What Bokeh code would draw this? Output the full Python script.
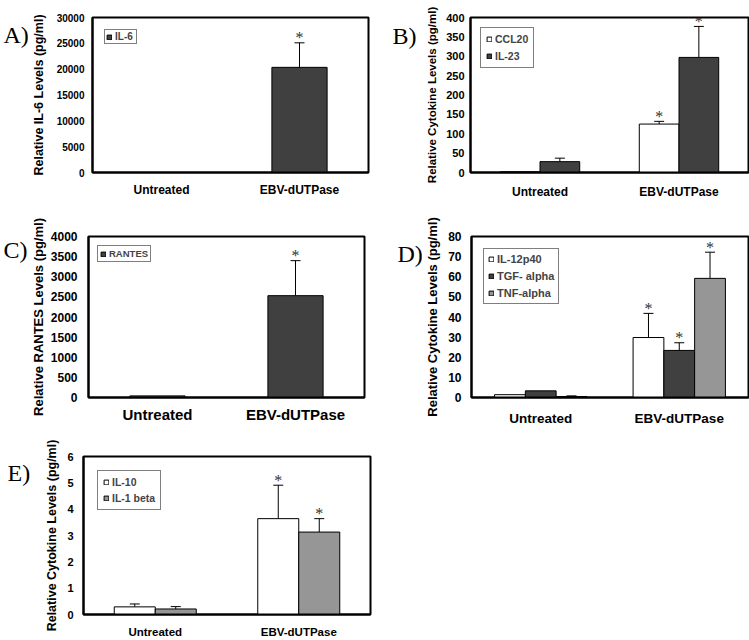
from bokeh.plotting import figure
from bokeh.models import (ColumnDataSource, FactorRange, Range1d, FixedTicker,
                          Whisker, TeeHead, Legend, LegendItem)
from bokeh.transform import dodge
from bokeh.layouts import row, column
from bokeh.core.properties import value
from bokeh.embed import file_html
from bokeh.resources import INLINE

# ---------------- data ----------------
categories = ["Untreated", "EBV-dUTPase"]
significant = [False, True]

il6 = [0, 20350]
il6_err = [0, 4750]

ccl20 = [2, 125]
ccl20_err = [0, 7]
il23 = [28, 297]
il23_err = [9, 80]

rantes = [40, 2530]
rantes_err = [0, 870]

il12p40 = [1.4, 29.8]
il12p40_err = [0, 12]
tgf_alpha = [3.3, 23.4]
tgf_alpha_err = [0, 3.8]
tnf_alpha = [0.5, 59.2]
tnf_alpha_err = [0.3, 13]

il10 = [0.29, 3.64]
il10_err = [0.11, 1.27]
il1_beta = [0.21, 3.13]
il1_beta_err = [0.09, 0.51]

DARK = "#404040"
GRAY = "#969696"
WHITE = "#ffffff"
SANS = "Liberation Sans"
SERIF = "Liberation Serif"


def letter_fig(letter, width, height, x, baseline):
    f = figure(width=width, height=height, x_range=Range1d(0, width),
               y_range=Range1d(0, height), x_axis_type=None, y_axis_type=None,
               min_border_left=0, min_border_right=0, min_border_top=0,
               min_border_bottom=0, output_backend="svg",
               toolbar_location=None, tools="")
    f.outline_line_color = None
    f.grid.visible = False
    f.text(x=[x], y=[height - baseline], text=[letter],
           text_font=value(SERIF), text_font_size="24px", text_color="black",
           text_baseline="alphabetic", text_align="left")
    return f


def make_panel(series, ylabel, y_max, y_step, width, height, borders, fs, leg):
    left, right, top, bottom = borders
    p = figure(x_range=FactorRange(*categories), y_range=Range1d(0, y_max),
               width=width, height=height,
               min_border_left=left, min_border_right=right,
               min_border_top=top, min_border_bottom=bottom,
               output_backend="svg", toolbar_location=None, tools="")
    n = len(series)
    bw = 1.0 / (n + 1.5)
    items = []
    for i, (name, vals, errs, color) in enumerate(series):
        off = (i - (n - 1) / 2) * bw
        src = ColumnDataSource(dict(cat=categories, val=vals))
        r = p.vbar(x=dodge("cat", off, range=p.x_range), top="val", width=bw,
                   source=src, fill_color=color, line_color="black",
                   line_width=1)
        items.append(LegendItem(label=name, renderers=[r]))
        ec = [c for c, e in zip(categories, errs) if e > 0]
        ev = [v for v, e in zip(vals, errs) if e > 0]
        eu = [v + e for v, e in zip(vals, errs) if e > 0]
        esrc = ColumnDataSource(dict(cat=ec, lo=ev, up=eu))
        w = Whisker(base=dodge("cat", off, range=p.x_range), lower="lo",
                    upper="up", source=esrc, dimension="height",
                    line_color="black", line_width=1,
                    upper_head=TeeHead(size=10, line_color="black", line_width=1),
                    lower_head=None)
        p.add_layout(w)
        sc = [c for c, s in zip(categories, significant) if s]
        sy = [v + e for v, e, s in zip(vals, errs, significant) if s]
        ssrc = ColumnDataSource(dict(cat=sc, y=sy))
        p.text(x=dodge("cat", off, range=p.x_range), y="y", text=value("*"),
               source=ssrc, text_font=value(SERIF), text_font_size="16px",
               text_color="#333333", text_align="center",
               text_baseline="middle", y_offset=-5)

    legend = Legend(items=items, location="top_left", margin=leg["margin"],
                    padding=leg["padding"], spacing=leg["spacing"],
                    label_height=leg["item_h"], glyph_height=6, glyph_width=6,
                    label_standoff=3, label_text_font=SANS,
                    label_text_font_style="bold",
                    label_text_font_size=leg["fs"],
                    border_line_color="black", border_line_width=1,
                    background_fill_color="white", background_fill_alpha=1)
    p.add_layout(legend)

    p.grid.visible = False
    p.outline_line_color = "black"
    p.outline_line_width = 2

    p.xaxis.axis_line_color = "black"
    p.xaxis.axis_line_width = 2
    p.xaxis.major_tick_line_color = None
    p.xaxis.major_tick_out = 0
    p.xaxis.major_tick_in = 0
    p.xaxis.major_label_text_font = SANS
    p.xaxis.major_label_text_font_style = "bold"
    p.xaxis.major_label_text_font_size = fs["x"]
    p.xaxis.major_label_text_color = "black"
    p.xaxis.major_label_standoff = fs["xstand"]

    p.yaxis.ticker = FixedTicker(ticks=list(range(0, y_max + 1, y_step)))
    p.yaxis.axis_line_color = "black"
    p.yaxis.axis_line_width = 2
    p.yaxis.major_tick_line_color = None
    p.yaxis.minor_tick_line_color = None
    p.yaxis.major_tick_out = 0
    p.yaxis.major_tick_in = 0
    p.yaxis.major_label_text_font = SANS
    p.yaxis.major_label_text_font_style = "bold"
    p.yaxis.major_label_text_font_size = fs["tick"]
    p.yaxis.major_label_text_color = "black"
    p.yaxis.major_label_standoff = fs["ystand"]
    p.yaxis.axis_label = ylabel
    p.yaxis.axis_label_text_font = SANS
    p.yaxis.axis_label_text_font_style = "bold"
    p.yaxis.axis_label_text_font_size = fs["ylab"]
    p.yaxis.axis_label_text_color = "black"
    p.yaxis.axis_label_standoff = fs["lstand"]
    return p


# ---- row 1 (0..205) ----
lA = letter_fig("A)", 28, 205, 3, 23)
pA = make_panel([("IL-6", il6, il6_err, DARK)],
                "Relative IL-6 Levels (pg/ml)", 30000, 5000,
                342, 205, (62, 2, 15, 33),
                dict(x="12px", xstand=10, tick="10px", ystand=8, ylab="12.5px", lstand=8),
                dict(margin=12, padding=1, spacing=0, item_h=10, fs="10px"))
lB = letter_fig("B)", 52, 205, 22, 25)
pB = make_panel([("CCL20", ccl20, ccl20_err, WHITE), ("IL-23", il23, il23_err, DARK)],
                "Relative Cytokine Levels (pg/ml)", 400, 50,
                327, 205, (48, 1, 17, 32),
                dict(x="12px", xstand=12, tick="11px", ystand=6, ylab="11.5px", lstand=5),
                dict(margin=10, padding=5, spacing=5, item_h=11, fs="10.5px"))

# ---- row 2 (205..430) ----
lC = letter_fig("C)", 27, 225, 3, 19)
pC = make_panel([("RANTES", rantes, rantes_err, DARK)],
                "Relative RANTES Levels (pg/ml)", 4000, 500,
                343, 225, (60, 6, 22, 33),
                dict(x="15px", xstand=8, tick="12px", ystand=11, ylab="13px", lstand=2),
                dict(margin=9, padding=2, spacing=0, item_h=11, fs="9.5px"))
lD = letter_fig("D)", 52, 225, 27, 25)
pD = make_panel([("IL-12p40", il12p40, il12p40_err, WHITE),
                 ("TGF- alpha", tgf_alpha, tgf_alpha_err, DARK),
                 ("TNF-alpha", tnf_alpha, tnf_alpha_err, GRAY)],
                "Relative Cytokine Levels (pg/ml)", 80, 10,
                327, 225, (47, 1, 31, 27),
                dict(x="13.5px", xstand=13, tick="12px", ystand=10, ylab="13px", lstand=5),
                dict(margin=12, padding=4, spacing=5, item_h=11, fs="11px"))

# ---- row 3 (430..640) ----
lE = letter_fig("E)", 30, 210, 7, 22)
pE = make_panel([("IL-10", il10, il10_err, WHITE),
                 ("IL-1 beta", il1_beta, il1_beta_err, GRAY)],
                "Relative Cytokine Levels (pg/ml)", 6, 1,
                370, 210, (53, 30, 26, 25),
                dict(x="11.5px", xstand=11, tick="11px", ystand=10, ylab="12.5px", lstand=5),
                dict(margin=14, padding=5, spacing=4, item_h=11, fs="10.5px"))

layout = column(row(lA, pA, lB, pB), row(lC, pC, lD, pD), row(lE, pE))

open("out.html", "w").write(file_html(layout, INLINE))
